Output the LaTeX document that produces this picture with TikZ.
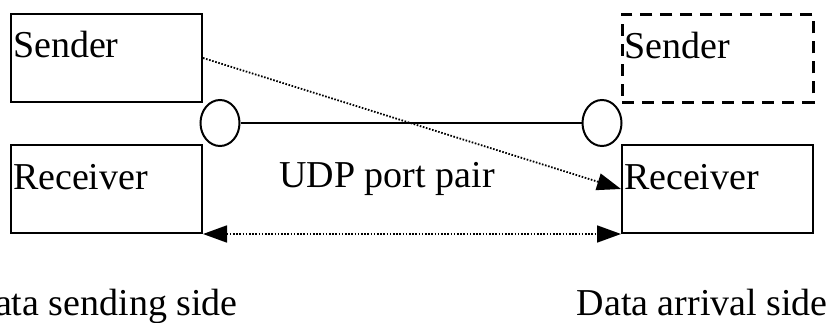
\documentclass[tikz,border=0pt]{standalone}
\usepackage{fontspec}
\setmainfont{Liberation Serif}
\newfontfamily\diagfont{Liberation Serif}
\usetikzlibrary{arrows.meta,shapes.geometric}

\begin{document}
\begin{tikzpicture}[x=1pt,y=-1pt,font=\diagfont\fontsize{38}{44}\selectfont]
\useasboundingbox (0,0) rectangle (834,323);

\begin{scope}[every node/.style={rectangle,draw,line width=2pt,anchor=north west,
              inner xsep=2pt,inner ysep=0pt,text width=187pt,
              text height=44pt,text depth=44pt}]
  \node (SL) at (10,13) {Sender};
  \node (RL) at (10,144) {Receiver};
  \node [dash pattern=on 12pt off 8pt,line width=2.6pt] (SR) at (621,13) {Sender};
  \node (RR) at (621,144) {Receiver};
\end{scope}

\begin{scope}[every node/.style={ellipse,draw,line width=2pt,
              minimum width=39pt,minimum height=46pt,inner sep=0pt}]
  \node (PL) at (220,123) {};
  \node (PR) at (602,123) {};
\end{scope}
\draw [line width=2pt] (PL) -- (PR);

\begin{scope}[>={Triangle[length=24pt,width=17pt]},
              line width=1.8pt, dash pattern=on 1.6pt off 1.6pt]
  \path [->] (SL.east) edge (RR.west);
  \path [<->] (RL.south east) edge (RR.south west);
\end{scope}

\begin{scope}[every node/.style={inner sep=0pt}]
  \node [anchor=base] (udp) at (387,187) {UDP port pair};
  \node [anchor=base east] (sendside) at (238,315) {Data sending side};
  \node [anchor=base east] (arrside) at (828,315) {Data arrival side};
\end{scope}
\end{tikzpicture}
\end{document}
